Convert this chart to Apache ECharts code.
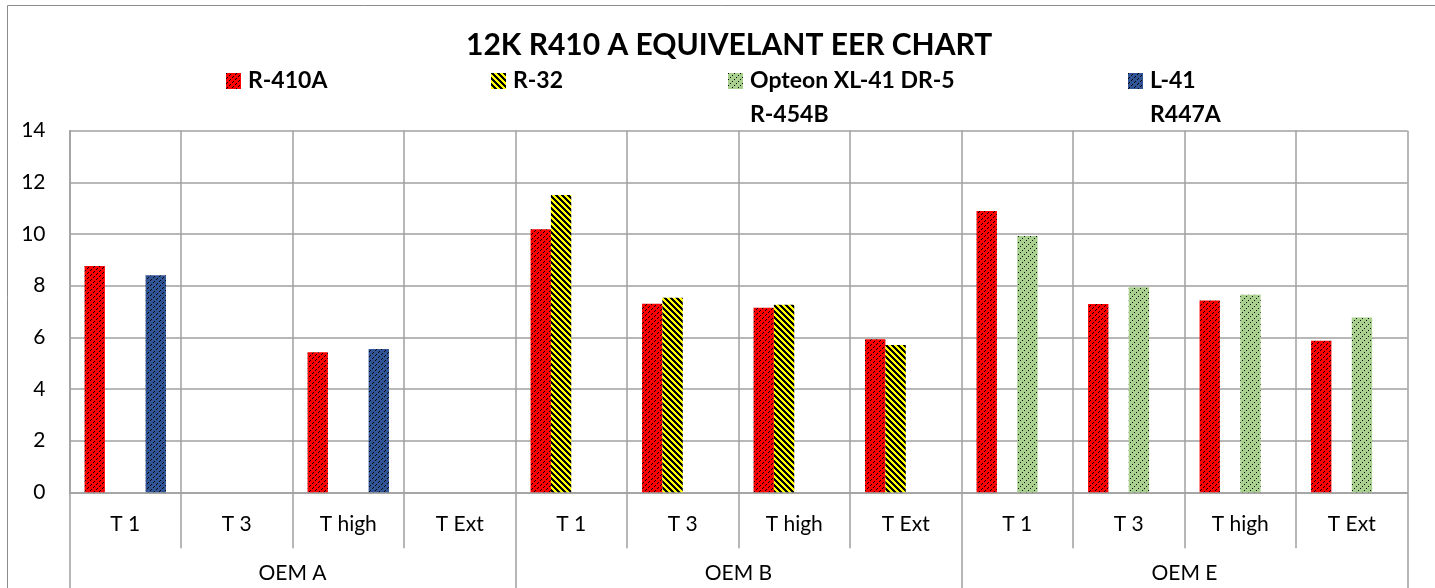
<!DOCTYPE html>
<html>
<head>
<meta charset="UTF-8">
<title>12K R410 A EQUIVELANT EER CHART</title>
<script src="https://cdn.jsdelivr.net/npm/echarts@6/dist/echarts.min.js"></script>
<style>
    html, body { margin: 0; padding: 0; background: #fff; }
    #chart { width: 1435px; height: 588px; }
</style>
</head>
<body>
<div id="chart"></div>
<script>
    // sub categories (first axis row) and groups (second axis row)
    const subLabels = ['T 1', 'T 3', 'T high', 'T Ext', 'T 1', 'T 3', 'T high', 'T Ext', 'T 1', 'T 3', 'T high', 'T Ext'];
    const groupLabels = ['OEM A', 'OEM B', 'OEM E'];

    const seriesNames = ['R-410A', 'R-32', 'Opteon XL-41 DR-5 R-454B', 'L-41 R447A'];

    const r410a = [8.76, null, 5.42, null, 10.18, 7.30, 7.15, 5.93, 10.89, 7.29, 7.43, 5.87];
    const r32 = [null, null, null, null, 11.51, 7.53, 7.26, 5.70, null, null, null, null];
    const opteon = [null, null, null, null, null, null, null, null, 9.92, 7.94, 7.65, 6.77];
    const l41 = [8.40, null, 5.55, null, null, null, null, null, null, null, null, null];

    const yTicks = { min: 0, max: 14, interval: 2 };

    // small hatch tiles, like the excel pattern fills
    function hatch(bg, fg, size, test) {
        const c = document.createElement('canvas');
        c.width = size;
        c.height = size;
        const ctx = c.getContext('2d');
        ctx.fillStyle = bg;
        ctx.fillRect(0, 0, size, size);
        ctx.fillStyle = fg;
        for ( let x = 0; x < size; x++ ) {
            for ( let y = 0; y < size; y++ ) {
                if ( test(x, y) ) ctx.fillRect(x, y, 1, 1);
            }
        }
        return { image: c, repeat: 'repeat' };
    }

    const fills = [
        hatch('#ff0000', '#000000', 15, (x, y) => (x + y) % 5 === 0 && x % 3 !== 2),
        hatch('#ffff00', '#000000', 6, (x, y) => ((x - y + 12) % 6) < 3),
        hatch('#a9d18e', '#000000', 12, (x, y) => (x + y) % 6 === 0 && x % 2 === 0),
        hatch('#2f5597', '#000000', 15, (x, y) => (x + y) % 5 === 0 && x % 3 !== 2)
    ];

    const grey = '#a0a0a0';
    const font = 'Lato, "Open Sans", sans-serif';

    const chart = echarts.init(document.getElementById('chart'));

    // legend rows: icon centred on the first text line (y 81), names wrap to a second line
    function legendFor(i, left, twoLines) {
        return {
            show: true,
            data: [seriesNames[i]],
            left: left,
            top: twoLines ? 81 - 51 : 81 - 17,
            padding: 0,
            orient: 'horizontal',
            itemWidth: 15,
            itemHeight: 16,
            icon: 'rect',
            selectedMode: false,
            formatter: function (name) {
                if ( name === 'Opteon XL-41 DR-5 R-454B' ) return '\nOpteon XL-41 DR-5\nR-454B';
                if ( name === 'L-41 R447A' ) return '\nL-41\nR447A';
                return name;
            },
            textStyle: {
                fontFamily: font,
                fontWeight: 'bold',
                fontSize: 23,
                color: '#000',
                lineHeight: 34,
                padding: [0, 0, 0, 2]
            }
        };
    }

    const series = [r410a, r32, opteon, l41].map(function (vals, i) {
        return {
            name: seriesNames[i],
            type: 'bar',
            data: vals,
            barGap: '0%',
            barCategoryGap: '27%',
            itemStyle: { color: fills[i] },
            emphasis: { disabled: true }
        };
    });

    chart.setOption({
        animation: false,
        backgroundColor: '#fff',
        title: {
            text: '12K R410 A EQUIVELANT EER CHART',
            left: 466,
            top: 30,
            padding: 0,
            textStyle: { fontFamily: font, fontWeight: 'bold', fontSize: 30, color: '#000' }
        },
        legend: [
            legendFor(0, 226, false),
            legendFor(1, 491, false),
            legendFor(2, 728, true),
            legendFor(3, 1128, true)
        ],
        graphic: [{
            type: 'rect',
            shape: { x: 7.5, y: 5.5, width: 1450, height: 600 },
            style: { fill: 'none', stroke: '#8c8c8c', lineWidth: 1 },
            silent: true,
            z: -1
        }],
        grid: { left: 69.5, right: 27.5, top: 130.7, bottom: 95.7 },
        xAxis: [
            {
                type: 'category',
                data: subLabels,
                position: 'bottom',
                axisLine: { show: true, lineStyle: { color: grey, width: 1.5 } },
                axisTick: { show: true, interval: 0, length: 56, lineStyle: { color: grey, width: 1.5 } },
                axisLabel: { interval: 0, margin: 21, fontFamily: font, fontSize: 21, color: '#000' },
                splitLine: { show: true, interval: 0, lineStyle: { color: grey, width: 1.5 } }
            },
            {
                type: 'category',
                data: groupLabels,
                position: 'bottom',
                offset: 56,
                axisLine: { show: false },
                axisTick: { show: true, interval: 0, length: 50, lineStyle: { color: grey, width: 1.5 } },
                axisLabel: { interval: 0, margin: 14, fontFamily: font, fontSize: 21, color: '#000' },
                splitLine: { show: false }
            }
        ],
        yAxis: {
            type: 'value',
            min: yTicks.min,
            max: yTicks.max,
            interval: yTicks.interval,
            axisLine: { show: true, lineStyle: { color: grey, width: 1.5 } },
            axisTick: { show: false },
            axisLabel: { margin: 24, fontFamily: font, fontSize: 21, color: '#000' },
            splitLine: { show: true, lineStyle: { color: grey, width: 1.5 } }
        },
        series: series
    });
</script>
</body>
</html>
